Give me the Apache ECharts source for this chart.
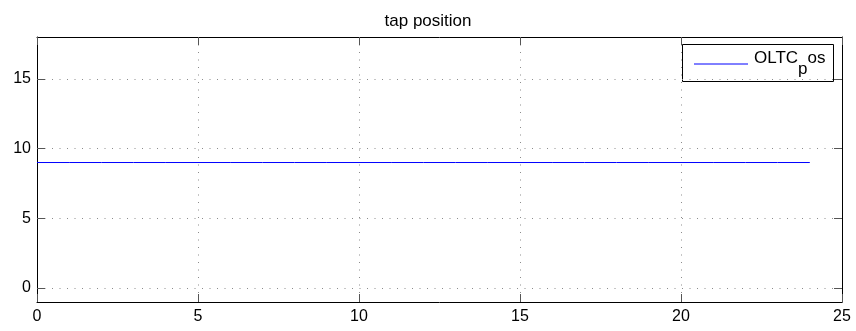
<!DOCTYPE html>
<html>
<head>
<meta charset="utf-8">
<script src="https://cdn.jsdelivr.net/npm/echarts@6/dist/echarts.min.js"></script>
<style>
  html, body { margin: 0; padding: 0; background: #fff; }
  #chart { width: 856px; height: 331px; }
</style>
</head>
<body>
<div id="chart"></div>
<script>
// Simulation time (h) and on-load tap changer position
const timeHours = [0, 1, 2, 3, 4, 5, 6, 7, 8, 9, 10, 11, 12, 13, 14, 15, 16, 17, 18, 19, 20, 21, 22, 23, 24];
const tapPosition = [9, 9, 9, 9, 9, 9, 9, 9, 9, 9, 9, 9, 9, 9, 9, 9, 9, 9, 9, 9, 9, 9, 9, 9, 9];
const xTicks = [0, 5, 10, 15, 20, 25];
const yTicks = [0, 5, 10, 15];
const seriesName = 'OLTC_pos';

const FONT = 'Liberation Sans, Arial, Helvetica, sans-serif';
const LINE_BLUE = '#0000ff';
const gridDots = { color: '#8c8c8c', width: 1, type: [1, 6.5] };
const tickStyle = { color: '#555', width: 1 };

const chart = echarts.init(document.getElementById('chart'), null, { renderer: 'canvas' });

function xAxisDef(pos, showLabels) {
  return {
    type: 'value', position: pos, min: 0, max: 25, interval: 5,
    axisLine: { show: true, onZero: false, lineStyle: { color: '#000', width: 1 } },
    axisTick: { show: true, inside: true, length: 8, lineStyle: tickStyle, customValues: xTicks },
    axisLabel: { show: showLabels, color: '#000', fontFamily: FONT, fontSize: 16, margin: 7, customValues: xTicks },
    splitLine: { show: showLabels, lineStyle: gridDots, customValues: xTicks }
  };
}
function yAxisDef(pos, showLabels) {
  return {
    type: 'value', position: pos, min: -1, max: 18,
    axisLine: { show: true, onZero: false, lineStyle: { color: '#000', width: 1 } },
    axisTick: { show: true, inside: true, length: 8, lineStyle: tickStyle, customValues: yTicks },
    axisLabel: { show: showLabels, color: '#000', fontFamily: FONT, fontSize: 16, margin: 6, customValues: yTicks },
    splitLine: { show: showLabels, lineStyle: gridDots, customValues: yTicks }
  };
}

// Legend box drawn as a small graphic group (line sample + label with subscript)
const legendBox = { x: 682.5, y: 44.5, w: 151, h: 37 };

chart.setOption({
  animation: false,
  backgroundColor: '#fff',
  title: {
    text: 'tap position', left: 'center', top: 8,
    textStyle: { fontFamily: FONT, fontSize: 17, fontWeight: 'normal', color: '#000' }
  },
  grid: { left: 37, right: 14, top: 37, bottom: 29, containLabel: false },
  xAxis: [xAxisDef('bottom', true), xAxisDef('top', false)],
  yAxis: [yAxisDef('left', true), yAxisDef('right', false)],
  series: [{
    name: seriesName, type: 'line', xAxisIndex: 0, yAxisIndex: 0,
    showSymbol: false, symbol: 'none',
    lineStyle: { color: LINE_BLUE, width: 1 },
    itemStyle: { color: LINE_BLUE },
    data: timeHours.map((t, i) => [t, tapPosition[i]])
  }],
  graphic: [{
    type: 'group', z: 100,
    children: [
      {
        type: 'rect',
        shape: { x: legendBox.x, y: legendBox.y, width: legendBox.w, height: legendBox.h },
        style: { fill: '#fff', stroke: '#000', lineWidth: 1 }
      },
      {
        type: 'line',
        shape: { x1: 694, y1: 64, x2: 748, y2: 64 },
        style: { stroke: LINE_BLUE, fill: null, lineWidth: 1 }
      },
      {
        type: 'text',
        x: 754, y: 50,
        style: {
          text: '{a|OLTC}{p|p}{a|os}',
          fontFamily: FONT, fontSize: 17, fill: '#000',
          verticalAlign: 'top', align: 'left',
          rich: {
            a: { fontFamily: FONT, fontSize: 17, fill: '#000', verticalAlign: 'top' },
            p: { fontFamily: FONT, fontSize: 17, fill: '#000', verticalAlign: 'top', padding: [11, 0, 0, 0] }
          }
        }
      }
    ]
  }]
});
</script>
</body>
</html>
